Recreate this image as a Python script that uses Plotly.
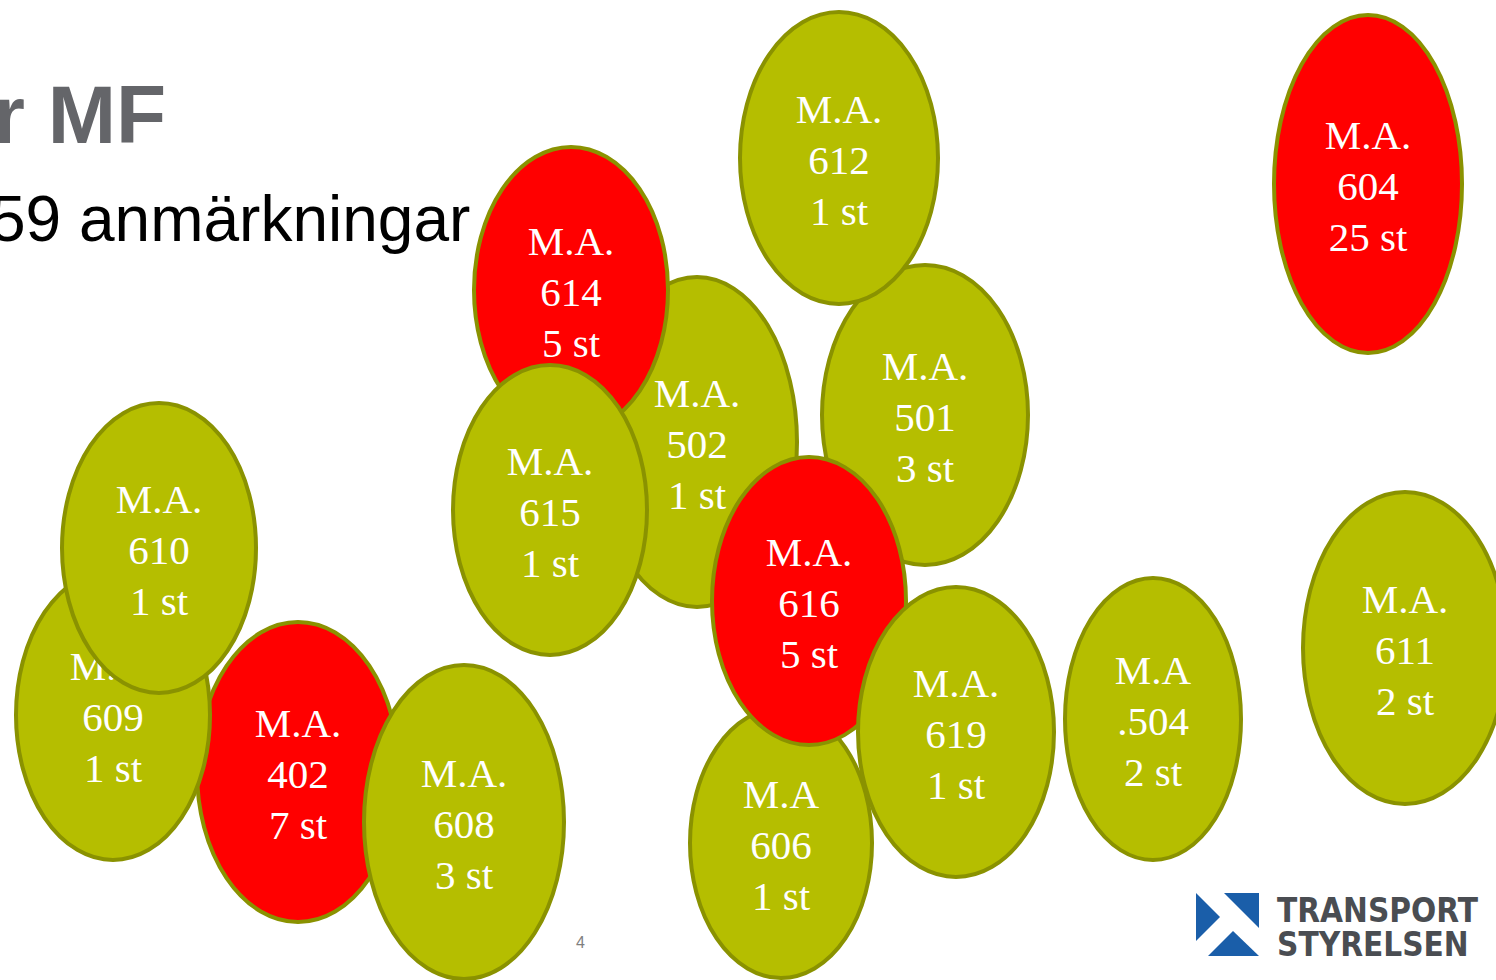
import plotly.graph_objects as go

# ---- data ----
codes = ["502", "614", "615", "501", "612", "606", "616", "619", ".504", "611", "604", "402", "609", "610", "608"]
prefixes = ["M.A.", "M.A.", "M.A.", "M.A.", "M.A.", "M.A", "M.A.", "M.A.", "M.A", "M.A.", "M.A.", "M.A.", "M.A.", "M.A.", "M.A."]
counts = [1, 5, 1, 3, 1, 1, 5, 1, 2, 2, 25, 7, 1, 1, 3]
title_text = "r MF"
subtitle_text = "59 anmärkningar"
page_number = "4"
logo_lines = ["TRANSPORT", "STYRELSEN"]

# ---- layout (pixel positions of bubbles) ----
cx = [697, 571, 550, 925, 839, 781, 809, 956, 1153, 1405, 1368, 298, 113, 159, 464]
cy = [442, 290, 510, 415, 158, 843, 601, 732, 719, 648, 184, 772, 715, 548, 822]
rx = [100, 97, 97, 103, 99, 91, 97, 98, 88, 102, 94, 101, 97, 97, 100]
ry = [165, 143, 145, 150, 146, 135, 144, 145, 141, 156, 169, 150, 145, 145, 157]
LINE_GAP = 51

W, H = 1496, 980
GREEN = "#B5BE00"
RED = "#FF0000"
EDGE = "#8A9200"

fig = go.Figure()
fig.add_trace(go.Scatter(x=[0, W], y=[0, H], mode="markers", marker=dict(opacity=0), hoverinfo="skip", showlegend=False))

for code, pre, n, x0, y0, a, b in zip(codes, prefixes, counts, cx, cy, rx, ry):
    fill = RED if n >= 5 else GREEN
    fig.add_shape(
        type="circle", xref="x", yref="y",
        x0=x0 - a, x1=x0 + a, y0=y0 - b, y1=y0 + b,
        fillcolor=fill, line=dict(color=EDGE, width=4), layer="above",
    )
    for k, txt in enumerate([pre, code, f"{n} st"]):
        yy = y0 - 2 + (k - 1) * LINE_GAP
        fig.add_shape(
            type="rect", xref="x", yref="y",
            x0=x0 - a, x1=x0 + a, y0=yy - 1, y1=yy + 1,
            fillcolor="rgba(0,0,0,0)", line=dict(width=0), layer="above",
            label=dict(text=txt, textposition="middle center",
                       font=dict(family="Liberation Serif", size=41, color="white")),
        )

# title texts
fig.add_annotation(x=168, y=114, xref="x", yref="y", text=f"<b>{title_text}</b>", showarrow=False,
                   xanchor="right", yanchor="middle",
                   font=dict(family="Liberation Sans", size=82, color="#646569"))
fig.add_annotation(x=472, y=219, xref="x", yref="y", text=subtitle_text, showarrow=False,
                   xanchor="right", yanchor="middle",
                   font=dict(family="Liberation Sans", size=64, color="#000000"))
fig.add_annotation(x=580, y=942, xref="x", yref="y", text=page_number, showarrow=False,
                   font=dict(family="Liberation Sans", size=16, color="#7F7F7F"))

# logo
BLUE = "#1A5EA9"
for path in ["M 1196 893 L 1220 917 L 1196 941 Z",
             "M 1224 893 L 1259 893 L 1259 928 Z",
             "M 1208 956 L 1233 931 L 1259 956 Z"]:
    fig.add_shape(type="path", path=path, xref="x", yref="y", fillcolor=BLUE, line=dict(width=0), layer="above")
for i, t in enumerate(logo_lines):
    fig.add_annotation(x=1275, y=910 + i * 34, xref="x", yref="y", text=f"<b>{t}</b>", showarrow=False,
                       xanchor="left", yanchor="middle",
                       font=dict(family="DejaVu Sans Condensed", size=33, color="#4A4D52"))

fig.update_layout(
    width=W, height=H, margin=dict(l=0, r=0, t=0, b=0),
    paper_bgcolor="white", plot_bgcolor="white", showlegend=False,
    xaxis=dict(range=[0, W], visible=False, fixedrange=True),
    yaxis=dict(range=[H, 0], visible=False, fixedrange=True),
)
fig.write_html("out.html", config={"displayModeBar": False},
               post_script="document.body.style.margin='0';document.body.style.overflow='hidden';")
